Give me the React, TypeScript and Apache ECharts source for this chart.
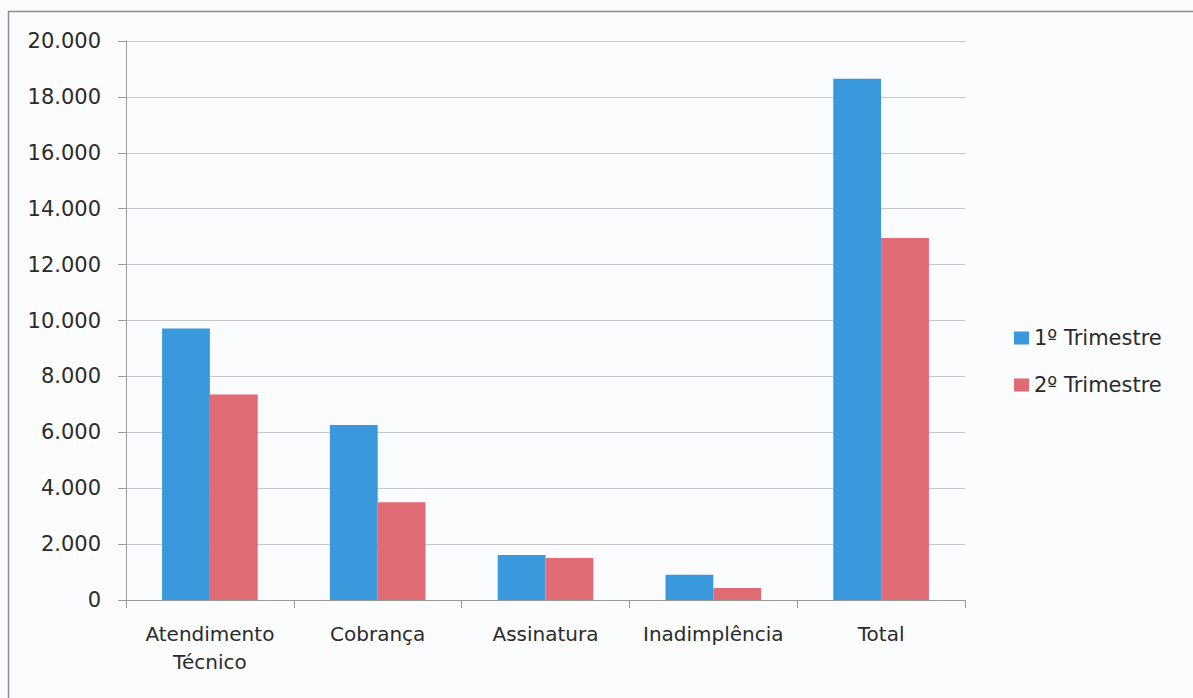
import React, { useEffect, useRef } from "react";
import * as echarts from "echarts";

const categories = ["Atendimento\nTécnico", "Cobrança", "Assinatura", "Inadimplência", "Total"];
const seriesNames = ["1º Trimestre", "2º Trimestre"];
const trimestre1 = [9710, 6260, 1610, 900, 18650];
const trimestre2 = [7350, 3500, 1500, 430, 12950];
const yTicks = { min: 0, max: 20000, interval: 2000 };

const FONT = "DejaVu Sans";
const TEXT = "#2b2b2b";

function fmt(v: number): string {
  return String(v).replace(/\B(?=(\d{3})+(?!\d))/g, ".");
}

export default function App() {
  const ref = useRef<HTMLDivElement>(null);
  useEffect(() => {
    if (!ref.current) return;
    const chart = echarts.init(ref.current, undefined, { renderer: "svg" });
    chart.setOption({
      animation: false,
      backgroundColor: "#fbfcfd",
      textStyle: { fontFamily: FONT },
      graphic: [
        {
          type: "rect",
          shape: { x: 8.5, y: 11.5, width: 1200, height: 700 },
          style: { fill: "none", stroke: "#8a8f96", lineWidth: 1.5 },
          silent: true,
        },
      ],
      grid: {
        left: 126,
        right: 228,
        top: 41,
        bottom: 98,
        containLabel: false,
        outerBoundsMode: "none",
      },
      legend: {
        orient: "vertical",
        left: 1009,
        top: 322,
        itemWidth: 15,
        itemHeight: 13,
        itemGap: 25,
        icon: "rect",
        textStyle: { fontFamily: FONT, fontSize: 21, color: TEXT, lineHeight: 22 },
        data: seriesNames,
      },
      xAxis: {
        type: "category",
        data: categories,
        boundaryGap: true,
        axisLine: { show: true, lineStyle: { color: "#9a9a9a", width: 1 } },
        axisTick: { show: true, length: 8, lineStyle: { color: "#9a9a9a" } },
        axisLabel: {
          interval: 0,
          margin: 20,
          fontFamily: FONT,
          fontSize: 20,
          color: TEXT,
          lineHeight: 28,
        },
      },
      yAxis: {
        type: "value",
        min: yTicks.min,
        max: yTicks.max,
        interval: yTicks.interval,
        axisLine: { show: true, lineStyle: { color: "#9a9a9a", width: 1 } },
        axisTick: { show: true, length: 8, lineStyle: { color: "#9a9a9a" } },
        splitLine: { show: true, lineStyle: { color: "#c4c6c9", width: 1 } },
        axisLabel: {
          margin: 25,
          fontFamily: FONT,
          fontSize: 21,
          color: TEXT,
          formatter: (v: number) => fmt(v),
        },
      },
      series: [
        {
          name: seriesNames[0],
          type: "bar",
          data: trimestre1,
          barGap: "0%",
          barCategoryGap: "43%",
          itemStyle: { color: "#3a98dc" },
        },
        {
          name: seriesNames[1],
          type: "bar",
          data: trimestre2,
          barGap: "0%",
          barCategoryGap: "43%",
          itemStyle: { color: "#e06b75" },
        },
      ],
    });
    return () => chart.dispose();
  }, []);
  return (
    <div
      ref={ref}
      style={{ position: "fixed", left: 0, top: 0, width: 1193, height: 698 }}
    />
  );
}
